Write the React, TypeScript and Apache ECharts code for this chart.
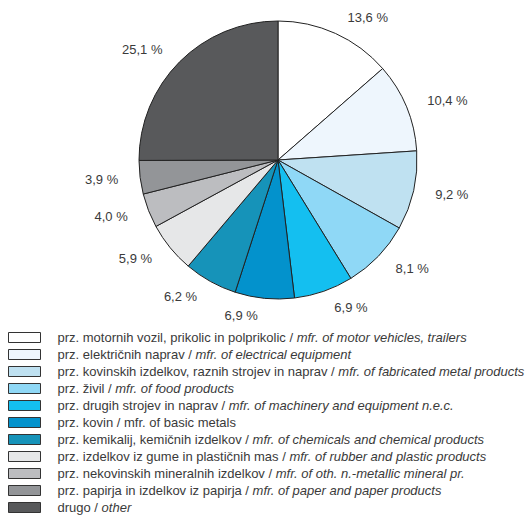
import React, { useEffect, useRef } from "react";
import * as echarts from "echarts";

const slovene = [
  "prz. motornih vozil, prikolic in polprikolic",
  "prz. električnih naprav",
  "prz. kovinskih izdelkov, raznih strojev in naprav",
  "prz. živil",
  "prz. drugih strojev in naprav",
  "prz. kovin",
  "prz. kemikalij, kemičnih izdelkov",
  "prz. izdelkov iz gume in plastičnih mas",
  "prz. nekovinskih mineralnih izdelkov",
  "prz. papirja in izdelkov iz papirja",
  "drugo",
];
const english = [
  "mfr. of motor vehicles, trailers",
  "mfr. of electrical equipment",
  "mfr. of fabricated metal products",
  "mfr. of food products",
  "mfr. of machinery and equipment n.e.c.",
  "mfr. of basic metals",
  "mfr. of chemicals and chemical products",
  "mfr. of rubber and plastic products",
  "mfr. of oth. n.-metallic mineral pr.",
  "mfr. of paper and paper products",
  "other",
];
const italicEnglish = [true, true, true, true, true, false, true, true, true, true, true];
const shares = [13.6, 10.4, 9.2, 8.1, 6.9, 6.9, 6.2, 5.9, 4.0, 3.9, 25.1];
const colors = [
  "#ffffff",
  "#eef6fd",
  "#bfe1f1",
  "#8fd8f6",
  "#14bff0",
  "#0392cc",
  "#1693b9",
  "#e6e7e8",
  "#bcbdc0",
  "#939598",
  "#58595b",
];

export default function App() {
  const ref = useRef<HTMLDivElement>(null);
  useEffect(() => {
    if (!ref.current) return;
    const chart = echarts.init(ref.current, undefined, { renderer: "svg" });
    const names = slovene.map((s, i) => `${s} / ${english[i]}`);
    const italicMap: Record<string, boolean> = {};
    names.forEach((n, i) => (italicMap[n] = italicEnglish[i]));
    const font = "Liberation Sans, Arial, sans-serif";
    chart.setOption({
      animation: false,
      backgroundColor: "#ffffff",
      color: colors,
      legend: {
        orient: "vertical",
        left: 8,
        top: 331,
        height: 190,
        padding: 0,
        itemWidth: 32,
        itemHeight: 10,
        itemGap: 4,
        icon: "rect",
        selectedMode: false,
        itemStyle: { borderColor: "#333333", borderWidth: 1 },
        data: names,
        formatter: (name: string) => {
          const idx = name.indexOf(" / ");
          const a = name.slice(0, idx);
          const b = name.slice(idx + 3);
          return `{n|${a} / }{${italicMap[name] ? "i" : "n"}|${b}}`;
        },
        textStyle: {
          padding: [0, 0, 0, 12],
          rich: {
            n: { fontFamily: font, fontSize: 13, color: "#3a3a3a", lineHeight: 13 },
            i: { fontFamily: font, fontSize: 13, color: "#3a3a3a", fontStyle: "italic", lineHeight: 13 },
          },
        },
      },
      series: [
        {
          type: "pie",
          center: [278, 160],
          radius: 139,
          startAngle: 90,
          clockwise: true,
          avoidLabelOverlap: false,
          data: names.map((n, i) => ({ name: n, value: shares[i] })),
          itemStyle: { borderColor: "#222222", borderWidth: 1 },
          label: {
            show: true,
            position: "outside",
            formatter: (p: any) => `${p.value.toFixed(1).replace(".", ",")} %`,
            fontFamily: font,
            fontSize: 13,
            color: "#3a3a3a",
            distanceToLabelLine: 5,
          },
          labelLine: { show: false, length: 17, length2: 0 },
          emphasis: { disabled: true },
        },
      ],
    });
    return () => chart.dispose();
  }, []);
  return (
    <div
      ref={ref}
      style={{ position: "fixed", left: 0, top: 0, width: 530, height: 516 }}
    />
  );
}
